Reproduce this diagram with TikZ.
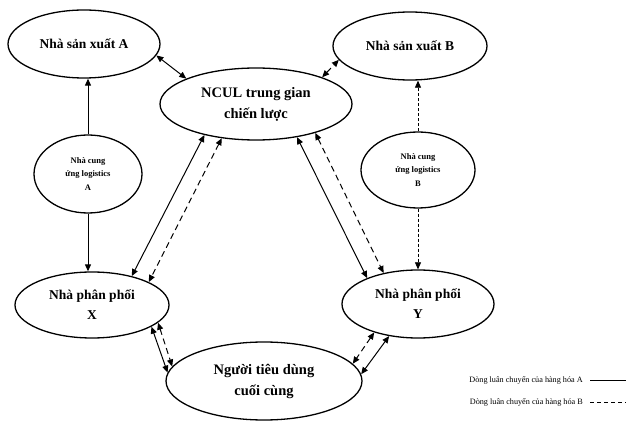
\documentclass[tikz,border=0pt]{standalone}
\usepackage{fontspec}
\setmainfont{Liberation Serif}
\usetikzlibrary{shapes.geometric,arrows.meta}
\begin{document}
\begin{tikzpicture}[x=1pt,y=-1pt,
  ell/.style={draw,ellipse,line width=1.3pt,inner sep=0pt,align=center},
  big/.style={font=\bfseries\fontsize{13.5}{20}\selectfont},
  bigger/.style={font=\bfseries\fontsize{14.5}{21}\selectfont},
  small/.style={font=\bfseries\fontsize{8.5}{13.5}\selectfont},
  tip/.tip={Triangle[length=7pt,width=6pt]},
  flowA/.style={line width=1pt,tip-tip},
  flowB/.style={line width=1pt,dash pattern=on 6pt off 4pt,tip-tip},
  oneA/.style={line width=1pt,-tip},
  oneB/.style={line width=0.7pt,dash pattern=on 3pt off 2pt,-tip},
  legtext/.style={font=\fontsize{8.2}{10}\selectfont,anchor=east,inner sep=0pt}]
\useasboundingbox (0,0) rectangle (633,425);
\node[ell,big,minimum width=152pt,minimum height=68pt] (A) at (84,44) {Nhà sản xuất A};
\node[ell,big,minimum width=154pt,minimum height=68pt] (B) at (410,46) {Nhà sản xuất B};
\node[ell,bigger,minimum width=192pt,minimum height=72pt] (ncul) at (256,104) {NCUL trung gian\\chiến lược};
\node[ell,small,minimum width=108pt,minimum height=78pt] (logA) at (88,174) {Nhà cung\\ứng logistics\\A};
\node[ell,small,minimum width=114pt,minimum height=76pt] (logB) at (418,170) {Nhà cung\\ứng logistics\\B};
\node[ell,big,minimum width=154pt,minimum height=66pt] (X) at (92,305) {Nhà phân phối\\X};
\node[ell,big,minimum width=152pt,minimum height=68pt] (Y) at (418,304) {Nhà phân phối\\Y};
\node[ell,bigger,minimum width=196pt,minimum height=78pt] (N) at (264,381) {Người tiêu dùng\\cuối cùng};
% connectors
\draw[flowA] (A.-9) -- (ncul.160);
\draw[flowB] (ncul.22) -- (B.191);
\draw[oneA] (logA.north) -- (logA.north |- A.south);
\draw[oneA] (logA.south) -- (logA.south |- X.north);
\draw[oneB] (logB.north) -- (logB.north |- B.south);
\draw[oneB] (logB.south) -- (logB.south |- Y.north);
\draw[flowA] (ncul.211) -- (X.36);
\draw[flowB] (ncul.225) -- (X.22);
\draw[flowA] (ncul.321) -- (Y.153);
\draw[flowB] (ncul.334) -- (Y.138);
\draw[flowA] (X.-20) -- (N.175);
\draw[flowB] (X.-15) -- (N.171);
\draw[flowB] (Y.213) -- (N.11);
\draw[flowA] (Y.228) -- (N.4);
% legend
\node[legtext] (legA) at (583,380) {Dòng luân chuyển của hàng hóa A};
\node[legtext] (legB) at (583,402) {Dòng luân chuyển của hàng hóa B};
\draw[line width=0.8pt] ([xshift=7pt]legA.east) -- ++(36,0);
\draw[line width=0.8pt,dash pattern=on 4pt off 3pt] ([xshift=7pt]legB.east) -- ++(36,0);
\end{tikzpicture}
\end{document}
